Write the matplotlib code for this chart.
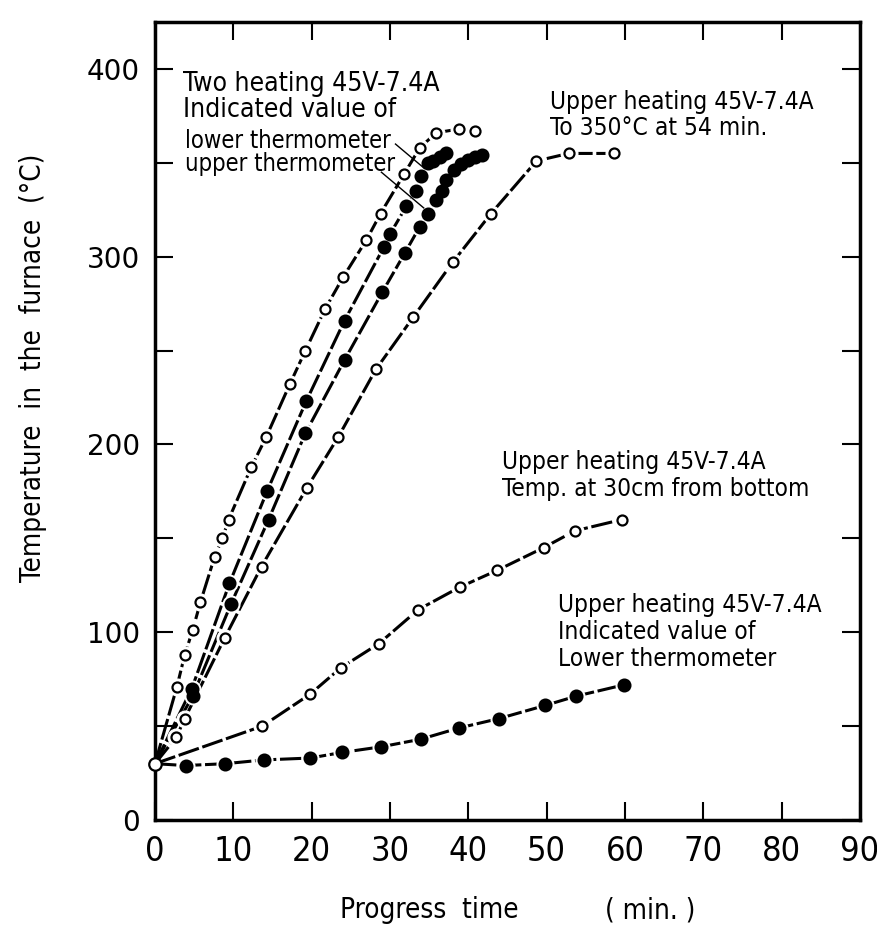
import matplotlib
matplotlib.use("Agg")
import matplotlib.pyplot as plt
from matplotlib import font_manager
from matplotlib.ticker import MultipleLocator

# look for a narrow face; otherwise use DejaVu Sans a bit smaller
narrow, stretch, scale = "DejaVu Sans", "normal", 0.85
for f in font_manager.fontManager.ttflist:
    if f.style != "normal" or f.weight not in (400, "normal", "regular"):
        continue
    if "Narrow" in f.name or "Condensed" in f.name:
        narrow, stretch, scale = f.name, "normal", 1.0
        break
    if f.name == "DejaVu Sans" and f.stretch == "condensed":
        narrow, stretch, scale = "DejaVu Sans", "condensed", 0.95
        break

# two heating, open circles (top-left curve)
a_x = [0, 2.8, 3.8, 4.8, 5.8, 7.6, 8.6, 9.4, 12.3, 14.2, 17.2, 19.2, 21.7, 24.0, 27.0, 28.8, 31.8, 33.8, 35.9, 38.8, 40.9]
a_y = [30, 71, 88, 101, 116, 140, 150, 160, 188, 204, 232, 250, 272, 289, 309, 323, 344, 358, 366, 368, 367]
# two heating, lower thermometer (filled)
b_x = [0, 4.7, 9.5, 14.3, 19.3, 24.2, 29.2, 30.0, 32.1, 33.3, 33.9, 34.8, 35.5, 36.4, 37.2]
b_y = [30, 70, 126, 175, 223, 266, 305, 312, 327, 335, 343, 350, 351, 353, 355]
# two heating, upper thermometer (filled)
c_x = [0, 4.8, 9.7, 14.5, 19.2, 24.2, 29.0, 31.9, 33.8, 34.8, 35.9, 36.6, 37.2, 38.2, 39.1, 40.0, 40.9, 41.7]
c_y = [30, 66, 115, 160, 206, 245, 281, 302, 316, 323, 330, 335, 341, 346, 349.5, 351.5, 353, 354]
# upper heating, to 350 C at 54 min
d_x = [0, 2.7, 3.8, 8.9, 13.6, 19.4, 23.4, 28.2, 33.0, 38.0, 42.9, 48.7, 52.8, 58.6]
d_y = [30, 44, 54, 97, 135, 177, 204, 240, 268, 297, 323, 351, 355, 355]
# upper heating, temp. at 30cm from bottom
e_x = [0, 13.7, 19.8, 23.7, 28.6, 33.6, 38.9, 43.7, 49.6, 53.6, 59.6]
e_y = [30, 50, 67, 81, 94, 112, 124, 133, 145, 154, 160]
# upper heating, lower thermometer
f_x = [0, 3.9, 9.0, 13.9, 19.8, 23.9, 28.9, 33.9, 38.8, 43.9, 49.8, 53.8, 59.9]
f_y = [30, 29, 30, 32, 33, 36, 39, 43, 49, 54, 61, 66, 72]

fig = plt.figure(figsize=(8.78, 9.38), dpi=100)
ax = fig.add_axes([155/878, 118/938, 705/878, 798/938])

dash = (0, (7, 1.2))
for xs, ys, filled in [(a_x, a_y, False), (b_x, b_y, True), (c_x, c_y, True),
                       (d_x, d_y, False), (e_x, e_y, False), (f_x, f_y, True)]:
    ax.plot(xs, ys, color="black", lw=2.2, linestyle=dash, zorder=2)
    ax.plot(xs[1:], ys[1:], "o", ms=12, color="white", mec="white", zorder=3)
    ax.plot(xs[1:], ys[1:], "o", ms=8.5 if filled else 7.2,
            mfc="black" if filled else "white", mec="black", mew=1.6, zorder=4)

# common start point
ax.plot(a_x[0], a_y[0], "o", ms=9, mfc="white", mec="black", mew=1.6, zorder=5, clip_on=False)

# leader lines
ax.plot([30.7, 34.4], [360, 347], color="black", lw=1, zorder=5)
ax.plot([28.9, 34.3], [345, 326], color="black", lw=1, zorder=5)

txt = dict(family=narrow, fontstretch=stretch, color="black", va="top", ha="left")
ax.text(3.6, 399, "Two heating 45V-7.4A\nIndicated value of", fontsize=20 * scale,
        linespacing=1.0, **txt)
ax.text(3.8, 368, "lower thermometer\nupper thermometer", fontsize=18 * scale,
        linespacing=0.95, **txt)
fs = 18.5 * scale
ax.text(50.4, 389, "Upper heating 45V-7.4A\nTo 350°C at 54 min.", fontsize=fs, linespacing=1.15, **txt)
ax.text(44.3, 197, "Upper heating 45V-7.4A\nTemp. at 30cm from bottom", fontsize=fs, linespacing=1.15, **txt)
ax.text(51.5, 121, "Upper heating 45V-7.4A\nIndicated value of\nLower thermometer", fontsize=fs,
        linespacing=1.15, **txt)

ax.set_xlim(0, 90)
ax.set_ylim(0, 425)
ax.xaxis.set_major_locator(MultipleLocator(10))
ax.yaxis.set_major_locator(MultipleLocator(100))
ax.yaxis.set_minor_locator(MultipleLocator(50))
ax.tick_params(which="both", direction="in", top=True, right=True, width=1.5)
ax.tick_params(which="major", length=13, pad=11)
ax.tick_params(which="minor", length=9)
ax.tick_params(axis="y", which="minor", right=True, length=13)
for lab in ax.get_xticklabels():
    lab.set_family(narrow)
    lab.set_fontstretch(stretch)
    lab.set_fontsize(26 * scale)
for lab in ax.get_yticklabels():
    lab.set_family("DejaVu Sans")
    lab.set_fontsize(20)
for s in ax.spines.values():
    s.set_linewidth(2.5)

fig.text(33/878, 1 - 368/938, "Temperature  in  the  furnace  (°C)", rotation=90,
         family=narrow, fontstretch=stretch, fontsize=21 * scale, ha="center", va="center")
fig.text(340/878, 1 - 910/938, "Progress  time", family=narrow, fontstretch=stretch,
         fontsize=21 * scale, ha="left", va="center")
fig.text(605/878, 1 - 910/938, "( min. )", family=narrow, fontstretch=stretch,
         fontsize=21 * scale, ha="left", va="center")

fig.savefig("out.png", dpi=100)
